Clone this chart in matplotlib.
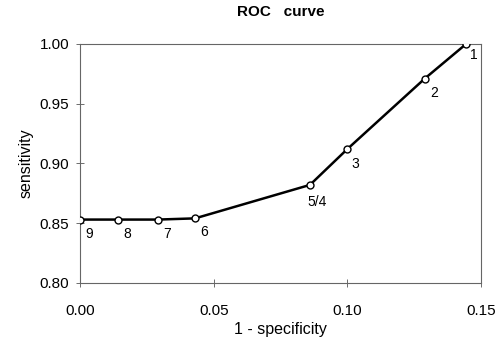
import matplotlib
matplotlib.use("Agg")
import matplotlib.pyplot as plt

plt.rcParams['font.family'] = ['Liberation Sans', 'DejaVu Sans']

fpr = [0.000, 0.014, 0.029, 0.043, 0.086, 0.100, 0.129, 0.1445]
sens = [0.853, 0.853, 0.853, 0.854, 0.882, 0.912, 0.971, 1.000]
point_labels = ["9", "8", "7", "6", "5/4", "3", "2", "1"]
label_offsets = [(4, -13), (4, -13), (4, -13), (4, -13), (-2, -15), (3, -14), (4, -13), (3, -11)]

fig = plt.figure(figsize=(5.01, 3.48), dpi=100)
ax = fig.add_axes([0.16, 0.187, 0.80, 0.687])

ax.plot(fpr, sens, color="black", lw=1.8, marker="o", markersize=5,
        markerfacecolor="white", markeredgecolor="black", markeredgewidth=1, zorder=3)

for x, y, lab, off in zip(fpr, sens, point_labels, label_offsets):
    ax.annotate(lab, (x, y), xytext=off, textcoords="offset points", fontsize=10)

ax.set_xlim(0, 0.15)
ax.set_ylim(0.80, 1.00)
ax.set_xticks([0.00, 0.05, 0.10, 0.15])
ax.set_yticks([0.80, 0.85, 0.90, 0.95, 1.00])
ax.set_xticklabels(["0.00", "0.05", "0.10", "0.15"])
ax.set_yticklabels(["0.80", "0.85", "0.90", "0.95", "1.00"])
ax.tick_params(direction="inout", length=6, width=0.6, labelsize=11, colors="#555555", labelcolor="black")
ax.tick_params(axis="x", pad=12)
ax.tick_params(axis="y", pad=5)
for s in ax.spines.values():
    s.set_linewidth(0.8)
    s.set_color("#666666")

ax.set_title("ROC   curve", fontsize=11, fontweight="bold", pad=20)
ax.set_xlabel("1 - specificity", fontsize=11.5, labelpad=3)
ax.set_ylabel("sensitivity", fontsize=11.5, labelpad=4)

fig.savefig("out.png", dpi=100)
